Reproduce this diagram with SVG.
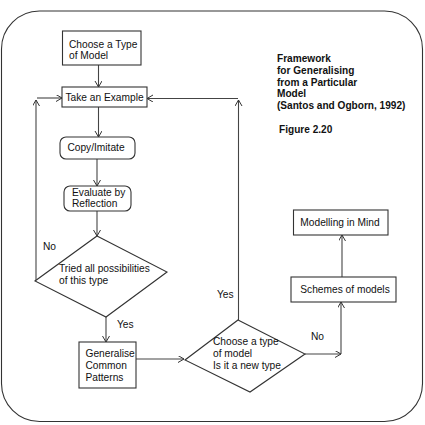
<svg xmlns="http://www.w3.org/2000/svg" width="425" height="425" viewBox="0 0 425 425">
<defs>
<style>
.b{fill:#fff;stroke:#333;stroke-width:1.1}
.t{font-family:"Liberation Sans",Arial,sans-serif;font-size:10.2px;fill:#111}
.h{font-family:"Liberation Sans",Arial,sans-serif;font-size:10.1px;font-weight:bold;fill:#111}
.c{fill:none;stroke:#444;stroke-width:1.1}
</style>
<marker id="a" markerWidth="8" markerHeight="8" refX="6" refY="3.5" orient="auto" markerUnits="userSpaceOnUse">
<path d="M0,0 L6,3.5 L0,7" fill="none" stroke="#333" stroke-width="1"/>
</marker>
</defs>
<rect width="425" height="425" fill="#fff"/>
<rect x="1.5" y="11" width="421" height="410.5" rx="38" ry="38" fill="none" stroke="#333" stroke-width="1.1"/>

<g id="title">
<text class="h" x="277" y="62">Framework</text>
<text class="h" x="277" y="74">for Generalising</text>
<text class="h" x="277" y="85.5">from a Particular</text>
<text class="h" x="277" y="97">Model</text>
<text class="h" x="277" y="109">(Santos and Ogborn, 1992)</text>
<text class="h" x="279" y="133">Figure 2.20</text>
</g>

<g id="connectors">
<path class="c" d="M98.5,65 L98.5,87" marker-end="url(#a)"/>
<path class="c" d="M98.5,107 L98.5,137" marker-end="url(#a)"/>
<path class="c" d="M97,159 L97,186" marker-end="url(#a)"/>
<path class="c" d="M97,211 L97,236" marker-end="url(#a)"/>
<path class="c" d="M36,281 L36,100" marker-end="url(#a)"/>
<path class="c" d="M37,98 L62,98" marker-end="url(#a)"/>
<path class="c" d="M106,317 L106,342" marker-end="url(#a)"/>
<path class="c" d="M136,359 L184,359" marker-end="url(#a)"/>
<path class="c" d="M238.5,320 L238.5,100" marker-end="url(#a)"/>
<path class="c" d="M238,98.5 L147,98.5" marker-end="url(#a)"/>
<path class="c" d="M305,354 L341,354" marker-end="url(#a)"/>
<path class="c" d="M341,354 L341,302" marker-end="url(#a)"/>
<path class="c" d="M342,277 L342,235" marker-end="url(#a)"/>
<text class="t" x="43" y="250">No</text>
<text class="t" x="117" y="328">Yes</text>
<text class="t" x="217" y="298">Yes</text>
<text class="t" x="311" y="340">No</text>
</g>

<g id="choose-type">
<rect class="b" x="62.5" y="31" width="78.5" height="34"/>
<text class="t" x="69" y="47.5">Choose a Type</text>
<text class="t" x="69" y="58.5">of Model</text>
</g>

<g id="take-example">
<rect class="b" x="62" y="87" width="85" height="20"/>
<text class="t" x="104.5" y="101" text-anchor="middle">Take an Example</text>
</g>

<g id="copy-imitate">
<rect class="b" x="60" y="137" width="75" height="22" rx="6"/>
<text class="t" x="96" y="151" text-anchor="middle">Copy/Imitate</text>
</g>

<g id="evaluate">
<rect class="b" x="64" y="186" width="67" height="25" rx="6"/>
<text class="t" x="72" y="196">Evaluate by</text>
<text class="t" x="72" y="207">Reflection</text>
</g>

<g id="tried-all">
<path class="b" d="M97,236 L167,272 L106,317 L35,281 Z"/>
<text class="t" x="59" y="272">Tried all possibilities</text>
<text class="t" x="59" y="283.5">of this type</text>
</g>

<g id="generalise">
<rect class="b" x="79" y="342" width="57" height="46"/>
<text class="t" x="85.5" y="357">Generalise</text>
<text class="t" x="85.5" y="369">Common</text>
<text class="t" x="85.5" y="380.5">Patterns</text>
</g>

<g id="new-type">
<path class="b" d="M238,320 L305,354 L250,392 L185,360 Z"/>
<text class="t" x="213" y="345">Choose a type</text>
<text class="t" x="213" y="356.5">of model</text>
<text class="t" x="213" y="368.5">Is it a new type</text>
</g>

<g id="schemes">
<rect class="b" x="291" y="277" width="105" height="25"/>
<text class="t" x="345" y="293" text-anchor="middle">Schemes of models</text>
</g>

<g id="modelling-mind">
<rect class="b" x="293.5" y="210" width="94.5" height="25"/>
<text class="t" x="340" y="225.5" text-anchor="middle">Modelling in Mind</text>
</g>
</svg>
